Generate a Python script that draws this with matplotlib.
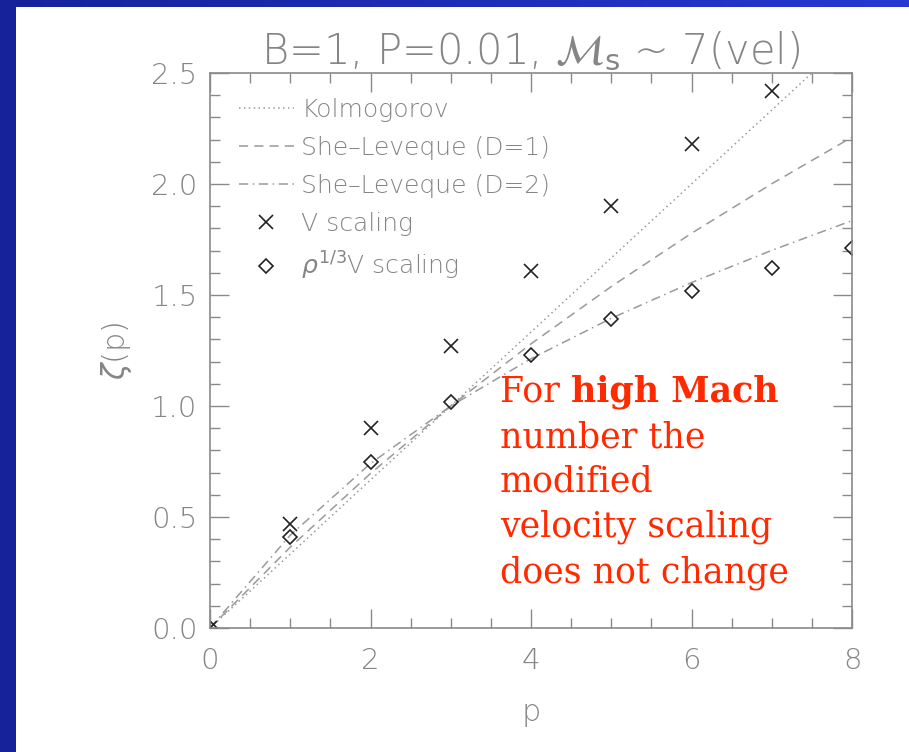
import numpy as np
import matplotlib
matplotlib.use("Agg")
import matplotlib.pyplot as plt
from matplotlib.ticker import MultipleLocator
from matplotlib.colors import LinearSegmentedColormap

# ---- data ----
p_model = [0, 1, 2, 3, 4, 5, 6, 7, 8]
kolmogorov = [0.0, 0.333, 0.667, 1.0, 1.333, 1.667, 2.0, 2.333, 2.667]
she_leveque_d1 = [0.0, 0.364, 0.696, 1.0, 1.280, 1.538, 1.778, 2.001, 2.211]
she_leveque_d2 = [0.0, 0.418, 0.741, 1.0, 1.213, 1.395, 1.556, 1.701, 1.835]

p_v = [0, 1, 2, 3, 4, 5, 6, 7]
zeta_v = [0.0, 0.47, 0.90, 1.27, 1.61, 1.90, 2.18, 2.42]

p_rho = [0, 1, 2, 3, 4, 5, 6, 7, 8]
zeta_rho = [0.0, 0.41, 0.75, 1.02, 1.23, 1.39, 1.52, 1.62, 1.71]

xticks = [0, 2, 4, 6, 8]
yticks = [0.0, 0.5, 1.0, 1.5, 2.0, 2.5]

W, H = 909, 752
fig = plt.figure(figsize=(W / 100, H / 100), dpi=100)
fig.patch.set_facecolor("white")

# blue slide border (left strip and top strip)
grad = np.linspace(0, 1, 256).reshape(1, -1)
cmap = LinearSegmentedColormap.from_list("b", ["#15229a", "#2638d0"])
top_ax = fig.add_axes([0, 1 - 7 / H, 1, 7 / H])
top_ax.imshow(grad, aspect="auto", cmap=cmap)
top_ax.axis("off")
left_ax = fig.add_axes([0, 0, 16 / W, 1])
left_ax.imshow(np.zeros((2, 2)), aspect="auto", cmap=cmap, vmin=0, vmax=1)
left_ax.axis("off")

gray = "#8a8a8a"
tgray = "#858585"
lgray = "#9a9a9a"
ax = fig.add_axes([210 / W, 1 - 628 / H, (852 - 210) / W, (628 - 73) / H])
ax.set_xlim(0, 8)
ax.set_ylim(0, 2.5)

ax.plot(p_model, kolmogorov, linestyle=(0, (1, 2.2)), color=lgray, lw=1.1, label="Kolmogorov")
ax.plot(p_model, she_leveque_d1, linestyle=(0, (6, 4)), color=lgray, lw=1.1, label="She–Leveque (D=1)")
ax.plot(p_model, she_leveque_d2, linestyle=(0, (6, 3, 1, 3)), color=lgray, lw=1.1, label="She–Leveque (D=2)")
ax.plot(p_v, zeta_v, linestyle="none", marker="x", markersize=10, mew=1.2, color="#222222", label="V scaling")
ax.plot(p_rho, zeta_rho, linestyle="none", marker="D", markersize=7, mew=1.2, mfc="none", mec="#222222",
        label=r"$\rho^{1/3}$V scaling")

for s in ax.spines.values():
    s.set_color(gray)
    s.set_linewidth(1.2)

ax.set_xticks(xticks)
ax.set_yticks(yticks)
ax.set_xticklabels([str(t) for t in xticks])
ax.set_yticklabels([f"{t:.1f}" for t in yticks])
for lab in ax.get_xticklabels() + ax.get_yticklabels():
    lab.set_fontweight("light")
ax.xaxis.set_minor_locator(MultipleLocator(0.5))
ax.yaxis.set_minor_locator(MultipleLocator(0.1))
ax.tick_params(which="both", direction="in", top=True, right=True, colors=gray, width=1.0)
ax.tick_params(which="major", length=14, labelsize=21, labelcolor=tgray)
ax.tick_params(which="minor", length=7)
ax.tick_params(axis="x", which="major", pad=14)
ax.tick_params(axis="y", which="major", pad=9)

ax.set_xlabel("p", fontsize=22, color=tgray, labelpad=16, fontweight="light")
ax.set_ylabel(r"$\zeta$(p)", fontsize=22, color=tgray, labelpad=12, fontweight="light")
ax.set_title(r"B=1, P=0.01, $\mathcal{M}_{\rm s}$ ~ 7(vel)", fontsize=30, color=tgray, pad=5,
             fontweight="light")

leg = ax.legend(loc="upper left", bbox_to_anchor=(0.045, 0.955), frameon=False,
                prop={"size": 18, "weight": "light"},
                labelcolor=tgray, handlelength=2.2, handletextpad=0.3, labelspacing=0.56,
                borderaxespad=0.0, borderpad=0.0)

red = "#ff2a00"
tx = 500 / W
fs = 25
fig.text(tx, 1 - 402 / H, "For ", fontsize=fs, color=red, family="DejaVu Serif", va="baseline")
t0 = fig.text(tx, 1 - 402 / H, "For ", fontsize=fs, color="none", family="DejaVu Serif", va="baseline")
fig.canvas.draw()
bb = t0.get_window_extent()
fig.text(bb.x1 / W, 1 - 402 / H, "high Mach", fontsize=fs, color=red, family="DejaVu Serif",
         weight="bold", va="baseline")
lines = ["number the", "modified", "velocity scaling", "does not change"]
for i, ln in enumerate(lines):
    fig.text(tx, 1 - (402 + 45 * (i + 1)) / H, ln, fontsize=fs, color=red, family="DejaVu Serif",
             va="baseline")

fig.savefig("out.png", dpi=100)
